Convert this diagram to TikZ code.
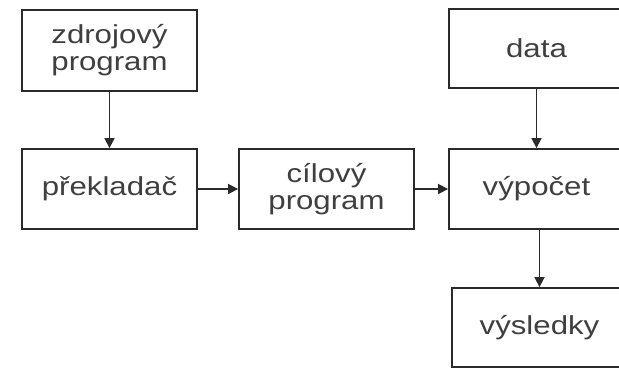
\documentclass[tikz,border=0pt]{standalone}
\usepackage{fontspec}
\setmainfont[FakeStretch=1.2]{Liberation Sans}
\usetikzlibrary{arrows.meta}
\definecolor{ink}{HTML}{2A2A2A}
\begin{document}
\begin{tikzpicture}[x=1pt,y=-1pt,
  box/.style={draw=ink, line width=1.8pt, minimum width=175pt, inner sep=0pt,
    font=\fontsize{26}{27}\selectfont, text=ink!90, align=center},
  conn/.style={draw=ink, line width=1.6pt, -{Triangle[length=10pt,width=10pt]}}]
\useasboundingbox (0,0) rectangle (619,368);
\clip (0,0) rectangle (619,368);
\node[box, minimum height=81pt] (zdroj) at (109.5,50.5) {zdrojový\\program};
\node[box, minimum height=80pt] (preklad) at (109.5,189) {překladač};
\node[box, minimum height=80pt] (cil) at (326.5,189) {cílový\\program};
\node[box, minimum height=79pt] (data) at (536.5,48.5) {data};
\node[box, minimum height=80pt] (vyp) at (536.5,189) {výpočet};
\node[box, minimum height=79pt] (vysl) at (539.5,327.5) {výsledky};
\draw[conn] (zdroj.south) -- (preklad.north);
\draw[conn] (preklad.east) -- (cil.west);
\draw[conn] (cil.east) -- (vyp.west);
\draw[conn] (data.south) -- (vyp.north);
\draw[conn] (vysl.north |- vyp.south) -- (vysl.north);
\end{tikzpicture}
\end{document}
